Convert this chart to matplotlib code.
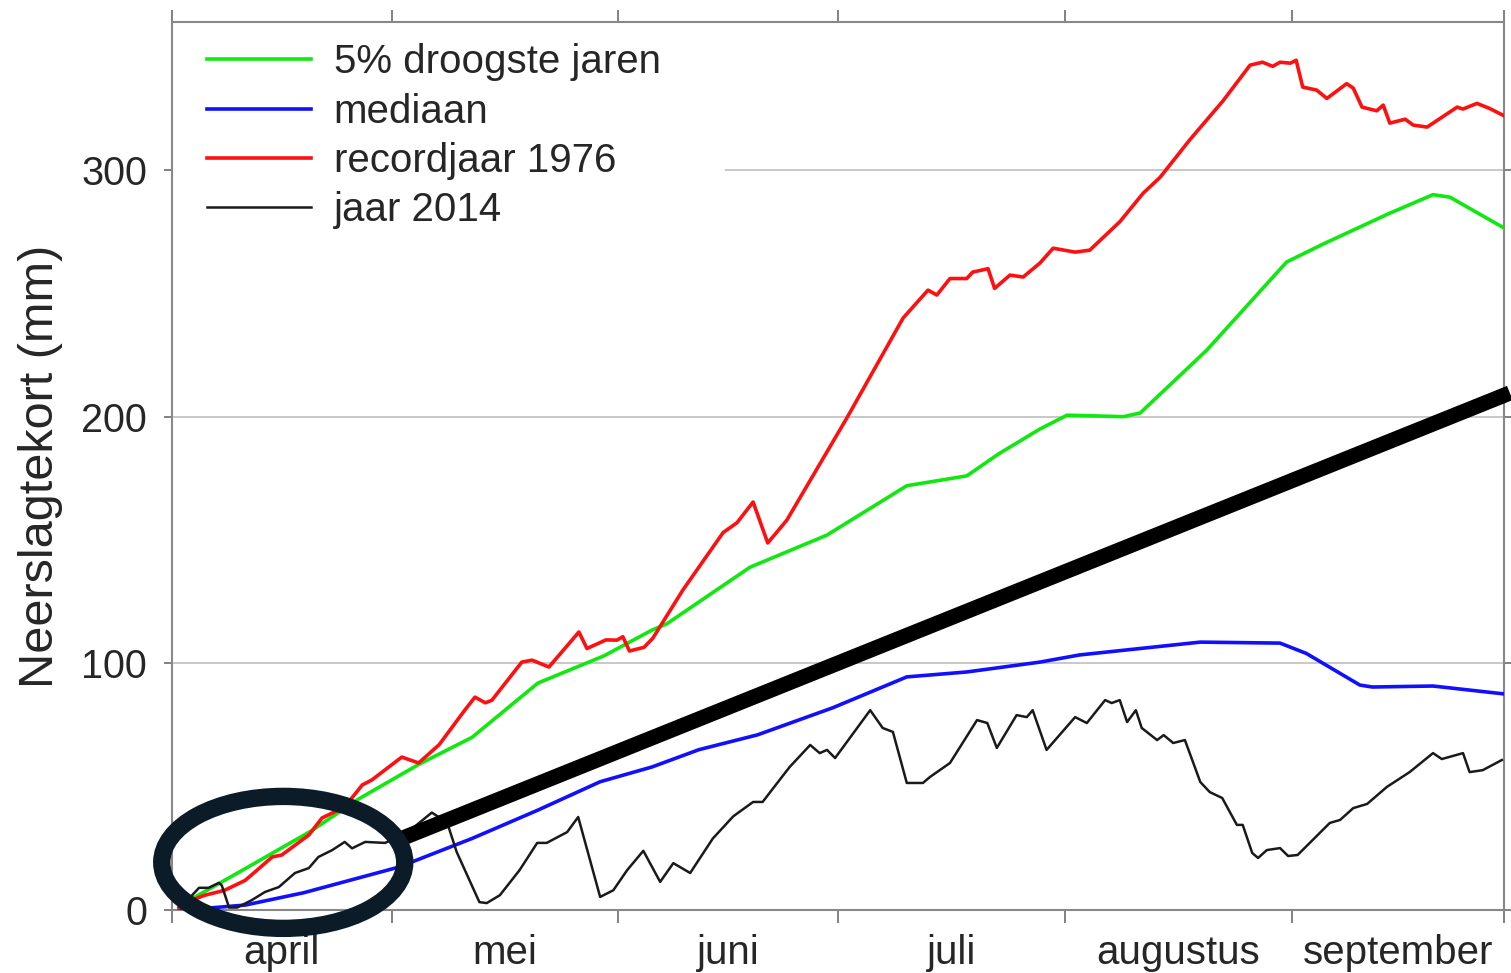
import matplotlib.pyplot as plt
from matplotlib.patches import Ellipse, Rectangle
import numpy as np

plt.rcParams['font.family'] = ['Liberation Sans', 'DejaVu Sans']

# dagen na 1 april
month_edges = [0, 30, 61, 91, 122, 153, 182]
month_mid = [15, 45.5, 76, 106.5, 137.5, 167.5]
month_names = ['april', 'mei', 'juni', 'juli', 'augustus', 'september']
yticks = [0, 100, 200, 300]

# 5% droogste jaren
green_day = [1, 1.8, 9.2, 19, 25.5, 33.7, 41, 50, 59, 65.6, 67.6, 79, 89.5, 100.4,
             108.6, 113, 118.6, 122.3, 130, 132.3, 141.4, 152.3, 157.3, 166.4, 172.3,
             174.6, 182]
green_mm = [1, 3, 15.4, 32, 45, 59, 70, 92, 103, 113.5, 116, 139, 152, 172,
            176, 185, 195, 200.6, 200, 201.5, 227, 262.7, 270, 282.5, 290,
            289, 276.5]

# mediaan
blue_day = [1, 5, 10, 18, 31, 41, 50, 58.5, 65.6, 72, 80, 90.3, 100.4, 108.6,
            118.6, 124, 140.5, 151.4, 155, 162.3, 164, 172.3, 182]
blue_mm = [0.5, 0.8, 2, 7, 17.4, 29, 40.5, 52, 58, 65, 71, 82, 94.5, 96.5,
           100.5, 103.4, 108.6, 108.2, 104, 91.2, 90.4, 90.8, 87.6]

# recordjaar 1976
red_day = [1, 1.8, 4.5, 7.2, 10, 13.7, 15, 18.7, 20.5, 23.6, 26, 27.3, 31.4, 33.7,
           36.5, 40, 41.4, 42.8, 43.7, 47.8, 49.2, 51.5, 55.6, 56.7, 59.3, 60.8,
           61.6, 62.5, 64.5, 65.7, 69.8, 75.3, 77.2, 79.4, 81.4, 84, 92.2, 99.9,
           103.3, 104.5, 106.3, 108.6, 109.4, 111.5, 112.4, 114.5, 116.3, 118.6,
           120.4, 123.4, 125.4, 129.5, 132.7, 135, 139, 143.6, 147.3, 149, 150.4,
           151.4, 152.8, 153.6, 154.5, 156.4, 157.8, 160.5, 161.4, 162.6, 164.6,
           165.5, 166.4, 168.5, 169.6, 171.5, 175.6, 176.4, 178.3, 180, 182]
red_mm = [1, 3, 6, 8, 12, 21.5, 22.3, 30.4, 37.3, 41.8, 50.7, 52.7, 62, 59.6,
          67, 81, 86.3, 84, 85, 100.5, 101.3, 98.5, 112.7, 106, 109.5, 109.4,
          110.8, 105, 106.5, 110.2, 129.7, 153, 157, 165.4, 148.8, 158, 199.4, 240,
          251.3, 249.3, 256, 256, 258.6, 260, 252, 257.4, 256.6, 262.3,
          268.3, 266.7, 267.5, 279, 290.6, 297, 312, 328, 342.5, 343.7, 342,
          343.7, 343.3, 344.5, 333.6, 332.4, 329, 335, 333.2, 325.5, 324,
          326.3, 319, 320.6, 318.2, 317.4, 325.5, 324.7, 327, 325, 322]

# jaar 2014
black_day = [1, 1.8, 3.7, 5, 6.4, 6.8, 7.8, 8.9, 10.9, 12.7, 14.6, 16.8, 18.7, 20,
             21.9, 23.6, 24.6, 26.4, 29.1, 32, 35.5, 36.8, 37.7, 38.9, 42, 43,
             44.8, 47.5, 49.9, 51.2, 54, 55.5, 58.5, 60.3, 62.2, 64.4, 66.7, 68.5,
             70.8, 73.9, 76.7, 79.4, 80.7, 82.7, 84.4, 87.2, 88.5, 89.5, 90.6,
             95.4, 97.1, 98.5, 100.4, 102.6, 103.6, 106.3, 110, 111.4, 112.7,
             115.4, 116.8, 117.6, 119.5, 123.4, 125, 127.5, 128.4, 129.5, 130.5,
             131.7, 132.5, 134.6, 135.5, 136.8, 138.4, 140.5, 141.8, 143.5, 145.5,
             146.3, 147.6, 148.4, 149.6, 151.4, 152.5, 153.8, 158.2, 159.6, 161.4,
             163.3, 166, 169.1, 172.3, 173.5, 176.4, 177.3, 179.1, 181.7]
black_mm = [1.5, 3, 9, 9, 11, 10, 1, 1, 4, 7.3, 9.3, 15, 17, 21.5,
            24.3, 27.6, 25, 27.6, 27.2, 31, 39.5, 37, 34.5, 23.5, 3.2, 2.8,
            6, 16.2, 27.2, 27.2, 31.6, 37.7, 5.3, 8, 16.2, 24, 11.4, 19,
            15, 29, 38, 43.8, 43.8, 51.5, 58, 66.9, 63.6, 64.9, 61.6,
            81, 73.8, 72.2, 51.5, 51.5, 54, 59.6, 77, 75.8, 65.7,
            79, 78.2, 81, 64.9, 78.2, 75.8, 85.1, 83.9, 85.1, 76.2,
            81, 73.8, 68.9, 70.9, 67.7, 68.9, 51.9, 47.8, 45.4, 34.5,
            34.5, 23.1, 21.1, 24.3, 25.1, 21.9, 22.3, 35.3, 36.5, 41.3,
            43, 49.9, 55.9, 63.6, 61.2, 63.6, 55.9, 56.7, 60.8]

# trendlijn en ellips (annotatie)
trend_day = [31.4, 182.8]
trend_mm = [29, 209.6]

txt = '#262626'
fig = plt.figure(figsize=(15.11, 9.73), dpi=100)
ax = fig.add_axes([172 / 1511, 63 / 973, 1332 / 1511, 888 / 973])

ax.set_xlim(0, 182)
ax.set_ylim(0, 360)

ax.set_yticks(yticks)
ax.grid(axis='y', color='#c4c4c4', lw=1.3, zorder=0)
ax.set_axisbelow(True)

ax.plot(green_day, green_mm, color='#10e810', lw=2.6, label='5% droogste jaren', zorder=3)
ax.plot(blue_day, blue_mm, color='#1010ff', lw=2.6, label='mediaan', zorder=3)
ax.plot(red_day, red_mm, color='#ff1010', lw=2.6, label='recordjaar 1976', zorder=3)
ax.plot(black_day, black_mm, color='#1a1a1a', lw=1.8, label='jaar 2014', zorder=3)

# witte achtergrond achter legenda
ax.add_patch(Rectangle((0, 0.75), 0.415, 0.25, transform=ax.transAxes,
                       facecolor='white', edgecolor='none', zorder=1))
leg = ax.legend(loc='upper left', bbox_to_anchor=(0.014, 0.994), frameon=False,
                fontsize=29, handlelength=2.6, handletextpad=0.55,
                labelspacing=0.28, borderaxespad=0)
for t in leg.get_texts():
    t.set_color(txt)

ax.plot(trend_day, trend_mm, color='black', lw=11, solid_capstyle='butt',
        clip_on=False, zorder=5)
ax.add_patch(Ellipse((15.2, 19.3), 33.2, 53.5, fill=False, edgecolor='#0b1b28',
                     lw=12.5, clip_on=False, zorder=6))

ax.set_xticks(month_edges)
ax.set_xticks(month_mid, minor=True)
ax.set_xticklabels([])
ax.set_xticklabels(month_names, minor=True)
ax.tick_params(axis='x', which='major', top=True, bottom=True, direction='out',
               length=9, width=1.3, color='#777777')
ax.tick_params(axis='x', which='minor', length=0, pad=17, labelsize=29, labelcolor=txt)
ax.tick_params(axis='y', left=True, right=True, direction='out', length=6,
               width=1.3, color='#777777', pad=12, labelsize=28.5, labelcolor=txt)

for s in ax.spines.values():
    s.set_color('#888888')
    s.set_linewidth(1.5)

ax.set_ylabel('Neerslagtekort (mm)', fontsize=35, color=txt, labelpad=13)

fig.savefig('out.png', dpi=100)
